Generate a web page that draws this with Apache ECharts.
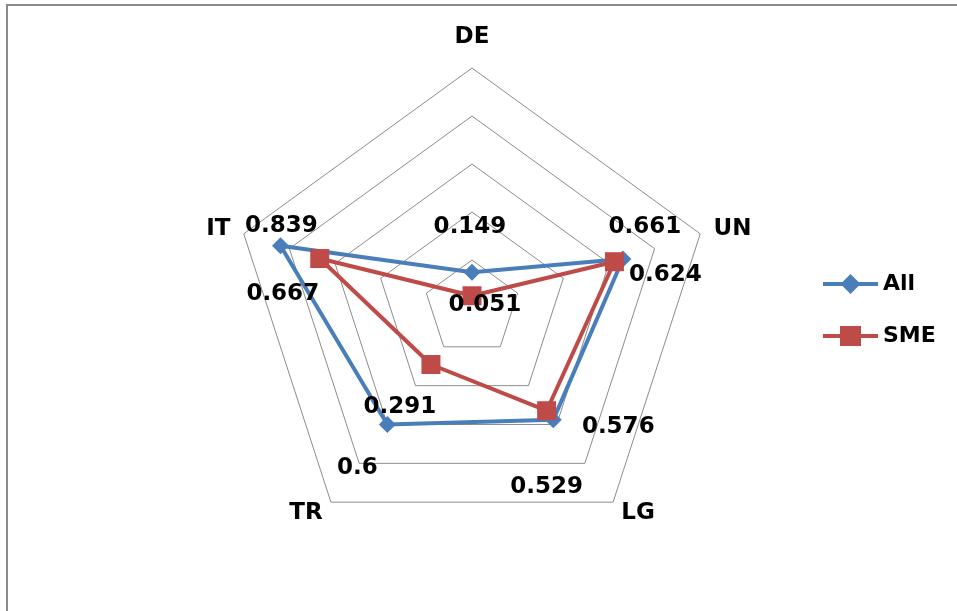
<!DOCTYPE html>
<html>
<head>
<meta charset="utf-8">
<script src="https://cdn.jsdelivr.net/npm/echarts@6/dist/echarts.min.js"></script>
<style>
html,body{margin:0;padding:0;background:#fff;}
#wrap{position:relative;width:957px;height:611px;overflow:hidden;}
#chart{position:absolute;left:0;top:0;width:957px;height:611px;}
#frame{position:absolute;left:6px;top:4px;width:1200px;height:1200px;border-top:2px solid #898989;border-left:2px solid #898989;pointer-events:none;}
</style>
</head>
<body>
<div id="wrap"><div id="chart"></div><div id="frame"></div></div>
<script>
// Indicators in counter-clockwise order starting at the top (ECharts default direction)
const indicators = ['DE', 'IT', 'TR', 'LG', 'UN'];
const seriesNames = ['All', 'SME'];
const allValues = [0.149, 0.839, 0.6, 0.576, 0.661];
const smeValues = [0.051, 0.667, 0.291, 0.529, 0.624];
const axisMax = 1;

// label offsets (style only) relative to each marker, same order as indicators
const allLabelOffset = [[-2, -45], [1, -20], [-30, 44], [65, 7], [22, -32]];
const smeLabelOffset = [[13, 9], [-37, 35], [-31, 43], [0, 76], [51, 13]];

const FONT = 'DejaVu Sans';
const chart = echarts.init(document.getElementById('chart'));

const valuesBySeries = [allValues, smeValues];
const offsetsBySeries = [allLabelOffset, smeLabelOffset];

chart.setOption({
  backgroundColor: '#ffffff',
  animation: false,
  legend: {
    orient: 'vertical',
    left: 818,
    top: 268,
    itemWidth: 55,
    itemHeight: 20,
    itemGap: 30,
    textStyle: { fontFamily: FONT, fontWeight: 'bold', fontSize: 22, color: '#000' },
    data: [
      { name: 'All', icon: 'path://M0,8H19.5L27.5,0L35.5,8H55V12H35.5L27.5,20L19.5,12H0Z' },
      { name: 'SME', icon: 'path://M0,8H17V0H38V8H55V12H38V20H17V12H0Z' }
    ]
  },
  radar: {
    center: [472, 308],
    radius: 240,
    startAngle: 90,
    shape: 'polygon',
    splitNumber: 5,
    nameGap: 14,
    indicator: indicators.map(n => ({ name: n, min: 0, max: axisMax })),
    axisName: {
      color: '#000', fontFamily: FONT, fontWeight: 'bold', fontSize: 23,
      formatter: function (name) { return name === 'DE' ? '{top|' + name + '}' : name; },
      rich: { top: { color: '#000', fontFamily: FONT, fontWeight: 'bold', fontSize: 23, padding: [0, 0, 5, 0] } }
    },
    axisLine: { show: false },
    axisTick: { show: false },
    axisLabel: { show: false },
    splitArea: { show: false },
    splitLine: { lineStyle: { color: '#8c8c8c', width: 1 } }
  },
  series: [
    {
      type: 'radar',
      name: 'All',
      symbol: 'diamond',
      symbolSize: 17,
      lineStyle: { color: '#4a7ebb', width: 4 },
      itemStyle: { color: '#4a7ebb' },
      label: { show: true, position: 'inside', fontFamily: FONT, fontWeight: 'bold', fontSize: 23, color: '#000' },
      data: [{ name: seriesNames[0], value: allValues }],
      z: 2
    },
    {
      type: 'radar',
      name: 'SME',
      symbol: 'rect',
      symbolSize: 19,
      lineStyle: { color: '#be4b48', width: 4 },
      itemStyle: { color: '#be4b48' },
      label: { show: true, position: 'inside', fontFamily: FONT, fontWeight: 'bold', fontSize: 23, color: '#000' },
      data: [{ name: seriesNames[1], value: smeValues }],
      z: 3
    }
  ],
  labelLayout: function (p) {
    const s = p.seriesIndex;
    const vals = valuesBySeries[s];
    if (!vals) return {};
    const i = vals.indexOf(parseFloat(p.text));
    if (i < 0) return {};
    const o = offsetsBySeries[s][i];
    return { dx: o[0], dy: o[1] };
  }
});
</script>
</body>
</html>
